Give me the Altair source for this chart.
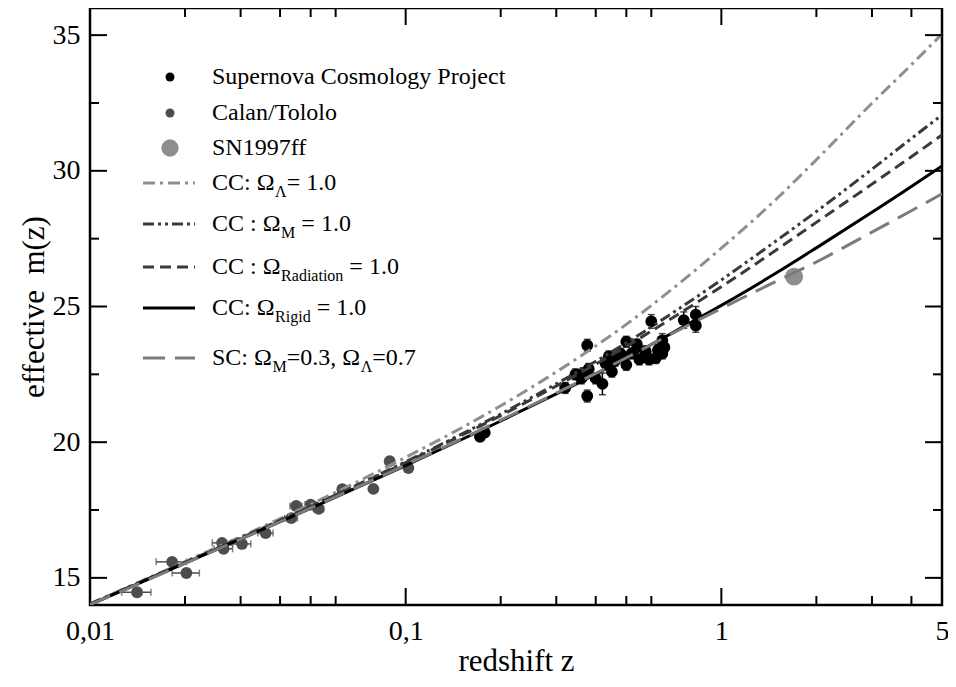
import altair as alt
import pandas as pd

# ---------------- data ----------------
# model curves: effective magnitude at these redshifts
z_grid = [0.01, 0.02, 0.05, 0.1, 0.2, 0.3, 0.5, 0.7, 1.0, 1.5, 2.0, 3.0, 4.0, 5.0]
m_cc_lambda = [14.05, 15.60, 17.71, 19.44, 21.34, 22.59, 24.34, 25.65, 27.15, 28.98, 30.41, 32.49, 33.91, 35.04]
m_cc_matter = [14.03, 15.57, 17.63, 19.28, 21.04, 22.15, 23.66, 24.76, 25.98, 27.44, 28.50, 30.06, 31.19, 32.06]
m_cc_rad = [14.03, 15.56, 17.62, 19.25, 20.98, 22.07, 23.53, 24.58, 25.73, 27.10, 28.10, 29.51, 30.52, 31.32]
m_cc_rigid = [14.01, 15.54, 17.56, 19.14, 20.78, 21.78, 23.10, 24.03, 25.04, 26.25, 27.16, 28.47, 29.42, 30.18]
m_sc = [14.01, 15.53, 17.57, 19.16, 20.81, 21.81, 23.11, 24.01, 24.93, 25.94, 26.64, 27.74, 28.53, 29.15]

# Calan/Tololo supernovae
ct_z = [0.0141, 0.0182, 0.0202, 0.0262, 0.0265, 0.0303, 0.036, 0.0434, 0.045, 0.050, 0.053, 0.063, 0.079, 0.089, 0.102]
ct_m = [14.47, 15.59, 15.18, 16.29, 16.07, 16.25, 16.65, 17.20, 17.65, 17.70, 17.54, 18.27, 18.28, 19.30, 19.05]
ct_dz = [0.0015, 0.002, 0.002, 0.0018, 0.0018, 0.002, 0.002, 0.002, 0.002, 0.002, 0.002, 0.002, 0.002, 0.002, 0.002]

# Supernova Cosmology Project
scp_z = [0.172, 0.178, 0.32, 0.345, 0.36, 0.365, 0.376, 0.376, 0.38, 0.40, 0.42, 0.43, 0.44, 0.45,
         0.46, 0.48, 0.50, 0.50, 0.52, 0.54, 0.55, 0.576, 0.59, 0.60, 0.62, 0.63, 0.65, 0.65, 0.66,
         0.76, 0.83, 0.83]
scp_m = [20.20, 20.35, 22.00, 22.50, 22.35, 22.54, 23.57, 21.70, 22.70, 22.35, 22.15, 22.90, 23.16, 22.60,
         23.00, 23.25, 23.70, 22.85, 23.27, 23.60, 23.05, 23.35, 23.05, 24.45, 23.10, 23.40, 23.27, 23.75, 23.50,
         24.50, 24.70, 24.30]
scp_err = [0.15, 0.15, 0.20, 0.20, 0.20, 0.20, 0.22, 0.22, 0.20, 0.20, 0.40, 0.20, 0.20, 0.20,
           0.20, 0.20, 0.20, 0.20, 0.20, 0.20, 0.20, 0.20, 0.20, 0.25, 0.20, 0.20, 0.20, 0.25, 0.20,
           0.30, 0.30, 0.25]

# SN1997ff
ff_z = [1.70]
ff_m = [26.10]

x_major = [0.1, 1.0]
x_minor = [0.02, 0.03, 0.04, 0.05, 0.06, 0.2, 0.3, 0.4, 0.5, 0.6, 2.0, 3.0, 4.0]
y_major = [15, 20, 25, 30, 35]
y_minor = [17.5, 22.5, 27.5, 32.5]

# ---------------- layout ----------------
W, H = 852, 597
FONT = "Liberation Serif"

xs = alt.Scale(type="log", domain=[0.01, 5], nice=False)
ys = alt.Scale(domain=[14, 36], nice=False, zero=False)

xaxis = alt.Axis(
    values=[0.01, 0.1, 1, 5],
    labelExpr="datum.value < 0.05 ? '0,01' : datum.value < 0.5 ? '0,1' : datum.value < 2 ? '1' : '5'",
    ticks=False, domain=False, grid=False,
    labelFont=FONT, labelFontSize=28, labelColor="black", labelPadding=12,
    labelFlush=False, labelOverlap=False, labelBound=False,
    title="redshift z", titleFont=FONT, titleFontSize=31, titleFontWeight="normal",
    titleColor="black", titleY=65, titleBaseline="alphabetic",
)
yaxis = alt.Axis(
    values=y_major, ticks=False, domain=False, grid=False,
    labelFont=FONT, labelFontSize=28, labelColor="black", labelPadding=10,
    labelOverlap=False,
    title="effective\u00a0 m(z)", titleFont=FONT, titleFontSize=31, titleFontWeight="normal",
    titleColor="black", titleX=-56, titleY=H / 2, titleBaseline="middle", titleAngle=-90,
)


def X(field):
    return alt.X(f"{field}:Q", scale=xs, axis=xaxis, title="redshift z")


def Y(field):
    return alt.Y(f"{field}:Q", scale=ys, axis=yaxis, title="effective\u00a0 m(z)")


layers = []

# Calan/Tololo horizontal error bars
ct = pd.DataFrame({"z": ct_z, "m": ct_m, "dz": ct_dz})
ct["lo"] = ct["z"] - ct["dz"]
ct["hi"] = ct["z"] + ct["dz"]
CT_COL = "#4d4d4d"
layers.append(alt.Chart(ct).mark_rule(color=CT_COL, strokeWidth=1.5).encode(
    x=X("lo"), x2="hi", y=Y("m")))
ct_caps = pd.DataFrame({"zc": list(ct["lo"]) + list(ct["hi"]), "m": ct_m + ct_m})
layers.append(alt.Chart(ct_caps).mark_tick(color=CT_COL, orient="vertical", size=7, thickness=1.5).encode(
    x=X("zc"), y=Y("m")))

# SCP vertical error bars
scp = pd.DataFrame({"z": scp_z, "m": scp_m, "e": scp_err})
scp["lo"] = scp["m"] - scp["e"]
scp["hi"] = scp["m"] + scp["e"]
layers.append(alt.Chart(scp).mark_rule(color="black", strokeWidth=1.5).encode(
    x=X("z"), y=Y("lo"), y2="hi"))
scp_caps = pd.DataFrame({"z": scp_z + scp_z, "mc": list(scp["lo"]) + list(scp["hi"])})
layers.append(alt.Chart(scp_caps).mark_tick(color="black", orient="horizontal", size=7, thickness=1.5).encode(
    x=X("z"), y=Y("mc")))

# points
layers.append(alt.Chart(ct).mark_circle(color=CT_COL, size=140, opacity=1).encode(x=X("z"), y=Y("m")))
layers.append(alt.Chart(scp).mark_circle(color="black", size=140, opacity=1).encode(x=X("z"), y=Y("m")))
ff = pd.DataFrame({"z": ff_z, "m": ff_m})
layers.append(alt.Chart(ff).mark_circle(color="#8e8e8e", size=320, opacity=1).encode(x=X("z"), y=Y("m")))

# model curves
curves = [
    ("lambda", m_cc_lambda, "#8f8f8f", [12, 5, 3, 5]),
    ("matter", m_cc_matter, "#3a3a3a", [11, 4, 3, 4, 3, 4]),
    ("rad", m_cc_rad, "#3a3a3a", [11, 6]),
    ("rigid", m_cc_rigid, "black", None),
    ("sc", m_sc, "#7c7c7c", [22, 10]),
]
for name, vals, col, dash in curves:
    df = pd.DataFrame({"z": z_grid, "m": vals})
    kw = dict(color=col, strokeWidth=3, interpolate="monotone", clip=True)
    if dash:
        kw["strokeDash"] = dash
    layers.append(alt.Chart(df).mark_line(**kw).encode(x=X("z"), y=Y("m")))

# inward ticks
for vals, ln in [(x_major, 17), (x_minor, 9)]:
    d = pd.DataFrame({"tv": vals})
    layers.append(alt.Chart(d).mark_rule(color="black", strokeWidth=2).encode(
        x=X("tv"), y=alt.value(H), y2=alt.value(H - ln)))
    layers.append(alt.Chart(d).mark_rule(color="black", strokeWidth=2).encode(
        x=X("tv"), y=alt.value(0), y2=alt.value(ln)))
for vals, ln in [(y_major, 17), (y_minor, 9)]:
    d = pd.DataFrame({"tv": vals})
    layers.append(alt.Chart(d).mark_rule(color="black", strokeWidth=2).encode(
        y=Y("tv"), x=alt.value(0), x2=alt.value(ln)))
    layers.append(alt.Chart(d).mark_rule(color="black", strokeWidth=2).encode(
        y=Y("tv"), x=alt.value(W), x2=alt.value(W - ln)))

# ---------------- legend ----------------
one = pd.DataFrame({"k": [0]})
rows_y = [69, 105, 140, 175, 216, 259, 300, 350]
SYM_X = 80
LINE_X0, LINE_X1 = 53, 105
TXT_X = 122
FS, FS_SUB, SUB_DY = 24, 16, 9

layers.append(alt.Chart(one).mark_circle(color="black", size=80, opacity=1).encode(
    x=alt.value(SYM_X), y=alt.value(rows_y[0])))
layers.append(alt.Chart(one).mark_circle(color=CT_COL, size=80, opacity=1).encode(
    x=alt.value(SYM_X), y=alt.value(rows_y[1])))
layers.append(alt.Chart(one).mark_circle(color="#8e8e8e", size=300, opacity=1).encode(
    x=alt.value(SYM_X), y=alt.value(rows_y[2])))
for (name, vals, col, dash), ry in zip(curves, rows_y[3:]):
    kw = dict(color=col, strokeWidth=3)
    if dash:
        kw["strokeDash"] = dash
    layers.append(alt.Chart(one).mark_rule(**kw).encode(
        x=alt.value(LINE_X0), x2=alt.value(LINE_X1), y=alt.value(ry)))

WID = {" ": .25, "C": .667, ":": .278, "Ω": .768, "Λ": .722, "M": .889, "R": .667, "a": .444,
       "d": .5, "i": .278, "t": .278, "o": .5, "n": .5, "g": .5, "=": .564, "1": .5, ".": .25,
       "0": .5, "S": .556, ",": .25, "3": .5, "7": .5}


def tw(s, fs):
    return sum(WID.get(c, .5) for c in s) * fs


legend_rows = [
    [("Supernova Cosmology Project", False)],
    [("Calan/Tololo", False)],
    [("SN1997ff", False)],
    [("CC: Ω", False), ("Λ", True), ("= 1.0", False)],
    [("CC : Ω", False), ("M", True), (" = 1.0", False)],
    [("CC : Ω", False), ("Radiation", True), (" = 1.0", False)],
    [("CC: Ω", False), ("Rigid", True), (" = 1.0", False)],
    [("SC: Ω", False), ("M", True), ("=0.3, Ω", False), ("Λ", True), ("=0.7", False)],
]
for pieces, ry in zip(legend_rows, rows_y):
    px = TXT_X
    for txt, sub in pieces:
        fs = FS_SUB if sub else FS
        lead = len(txt) - len(txt.lstrip(" "))
        px += lead * WID[" "] * fs
        t = txt.lstrip(" ")
        layers.append(alt.Chart(one).mark_text(
            text=t, font=FONT, fontSize=fs, color="black", align="left", baseline="middle"
        ).encode(x=alt.value(px), y=alt.value(ry + (SUB_DY if sub else 0))))
        px += tw(t, fs)

chart = alt.layer(*layers).properties(
    width=W, height=H,
    padding={"left": 82, "top": 0, "right": 6, "bottom": 74},
    autosize=alt.AutoSizeParams(type="none"),
).configure_view(stroke="black", strokeWidth=2.5)

chart.save("out.html", embed_options={"renderer": "svg", "actions": False})
